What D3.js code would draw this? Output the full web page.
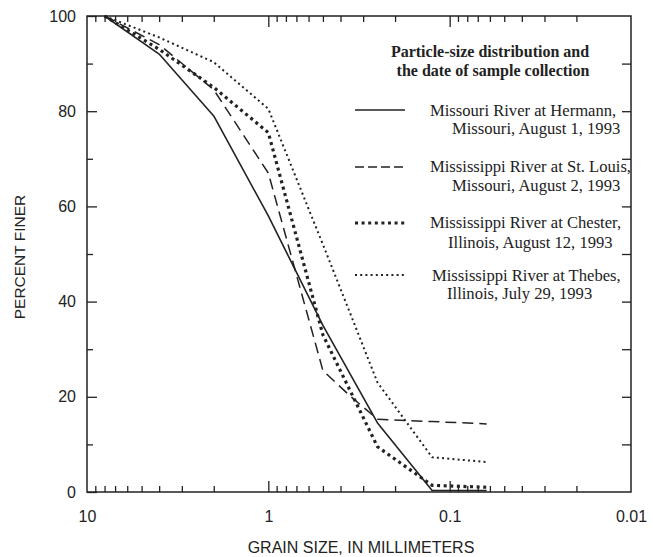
<!DOCTYPE html>
<html>
<head>
<meta charset="utf-8">
<script src="https://cdn.jsdelivr.net/npm/d3@7"></script>
<style>
  html, body { margin: 0; padding: 0; background: #fff; }
  svg { display: block; }
  .tick text { font-family: "Liberation Sans", Arial, sans-serif; font-size: 16px; fill: #222; }
</style>
</head>
<body>
<svg id="chart" width="653" height="557"></svg>
<script>
// ---- Data ----
const sizesStd = [8, 4, 2, 1, 0.5, 0.25, 0.125, 0.0625];           // grain size, mm
const sizesStLouis = [8, 4, 2, 1, 0.5, 0.35, 0.25, 0.125, 0.0625];
const hermann = [100, 92, 79, 58, 35, 14.5, 0.3, 0.3];
const stLouis = [100, 94, 84.5, 67, 25.5, 20, 15.3, 14.8, 14.3];
const chester = [100, 93, 85, 75.5, 33, 9.5, 1.4, 1];
const thebes  = [100, 95.5, 90.3, 80.5, 52, 23, 7.3, 6.3];

const seriesNames = [
  ["Missouri River at Hermann,", "Missouri, August 1, 1993"],
  ["Mississippi River at St. Louis,", "Missouri, August 2, 1993"],
  ["Mississippi River at Chester,", "Illinois, August 12, 1993"],
  ["Mississippi River at Thebes,", "Illinois, July 29, 1993"]
];
const xMajorTicks = [10, 1, 0.1, 0.01];
const xMajorLabels = ["10", "1", "0.1", "0.01"];
const yLabelTicks = [0, 20, 40, 60, 80, 100];
const yMinorTicks = [10, 30, 50, 70, 90];
const yRightTicks = [10, 20, 30, 40, 50, 60, 70, 80, 90];
const legendTitle = ["Particle-size distribution and", "the date of sample collection"];
const xTitle = "GRAIN SIZE, IN MILLIMETERS";
const yTitle = "PERCENT FINER";

// ---- Styles ----
const ink = "#222";
const styles = [
  { width: 1.6, dash: null, legendDash: null },
  { width: 1.5, dash: "11,6", legendDash: "9,4" },
  { width: 3.2, dash: "3,3.6", legendDash: "3,3.6" },
  { width: 2.0, dash: "2,3.2", legendDash: "2,3.2" }
];
const series = [
  { sizes: sizesStd, values: hermann },
  { sizes: sizesStLouis, values: stLouis },
  { sizes: sizesStd, values: chester },
  { sizes: sizesStd, values: thebes }
];

const svg = d3.select("#chart");
const L = 87, R = 631, T = 16, B = 492;
const x = d3.scaleLog().domain([10, 0.01]).range([L, R]);
const y = d3.scaleLinear().domain([0, 100]).range([B, T]);

// ---- Axes ----
const allXTicks = x.ticks().filter(d => d < 9.99 && d > 0.0101);
const majorIndex = d => xMajorTicks.findIndex(m => Math.abs(Math.log10(d) - Math.log10(m)) < 1e-6);
const isMajor = d => majorIndex(d) >= 0;

const bottomAxis = svg.append("g").attr("transform", `translate(0,${B})`)
  .call(d3.axisBottom(x).tickValues(allXTicks).tickSize(-6).tickPadding(19)
    .tickFormat(d => { const i = majorIndex(d); return i >= 0 ? xMajorLabels[i] : ""; }));
bottomAxis.selectAll(".tick line").attr("y2", d => isMajor(d) ? -11 : -6);

// labels at the frame ends (10 and 0.01)
svg.append("g").attr("transform", `translate(0,${B})`)
  .call(d3.axisBottom(x).tickValues([10, 0.01]).tickSize(0).tickPadding(19)
    .tickFormat(d => xMajorLabels[majorIndex(d)]));

const topAxis = svg.append("g").attr("transform", `translate(0,${T})`)
  .call(d3.axisTop(x).tickValues(allXTicks).tickSize(-6).tickFormat(""));
topAxis.selectAll(".tick line").attr("y2", d => isMajor(d) ? 11 : 6);

svg.append("g").attr("transform", `translate(${L},0)`)
  .call(d3.axisLeft(y).tickValues(yLabelTicks).tickSize(-10).tickPadding(11));
svg.append("g").attr("transform", `translate(${L},0)`)
  .call(d3.axisLeft(y).tickValues(yMinorTicks).tickSize(-6).tickFormat(""));
svg.append("g").attr("transform", `translate(${R},0)`)
  .call(d3.axisRight(y).tickValues(yRightTicks).tickSize(-9).tickFormat(""));

svg.selectAll(".domain").remove();
svg.selectAll(".tick line").attr("stroke", ink).attr("stroke-width", 1.3);

// frame
svg.append("rect").attr("x", L).attr("y", T).attr("width", R - L).attr("height", B - T)
  .attr("fill", "none").attr("stroke", ink).attr("stroke-width", 1.5);

// ---- Lines ----
const line = d3.line().x(d => x(d[0])).y(d => y(d[1]));
series.forEach((s, i) => {
  const pts = s.sizes.map((d, j) => [d, s.values[j]]);
  svg.append("path").datum(pts)
    .attr("d", line)
    .attr("fill", "none")
    .attr("stroke", ink)
    .attr("stroke-width", styles[i].width)
    .attr("stroke-linejoin", "round")
    .attr("stroke-dasharray", styles[i].dash);
});

// ---- Legend ----
const serif = "'Liberation Serif', 'Times New Roman', serif";
const lg = svg.append("g").attr("font-family", serif).attr("fill", ink);
lg.append("text").attr("x", 490).attr("y", 56.5).attr("text-anchor", "middle")
  .attr("font-weight", "bold").attr("font-size", 16).text(legendTitle[0]);
lg.append("text").attr("x", 493).attr("y", 75.5).attr("text-anchor", "middle")
  .attr("font-weight", "bold").attr("font-size", 16).text(legendTitle[1]);

const legendRows = [
  { ly: 110, t1: [430, 115.5], t2: [452, 133.5] },
  { ly: 167, t1: [430, 171.5], t2: [452, 190.5] },
  { ly: 223, t1: [430, 228], t2: [448, 247.5] },
  { ly: 275, t1: [432, 280.5], t2: [447, 298.5] }
];
legendRows.forEach((r, i) => {
  lg.append("line").attr("x1", 355).attr("x2", 405).attr("y1", r.ly).attr("y2", r.ly)
    .attr("stroke", ink).attr("stroke-width", styles[i].width)
    .attr("stroke-dasharray", styles[i].legendDash);
  lg.append("text").attr("x", r.t1[0]).attr("y", r.t1[1]).attr("font-size", 16.6).text(seriesNames[i][0]);
  lg.append("text").attr("x", r.t2[0]).attr("y", r.t2[1]).attr("font-size", 16.6).text(seriesNames[i][1]);
});

// ---- Axis titles ----
svg.append("text").attr("x", 361).attr("y", 553).attr("text-anchor", "middle")
  .attr("font-family", "'Liberation Sans', Arial, sans-serif").attr("font-size", 16).attr("fill", ink)
  .text(xTitle);
svg.append("text").attr("transform", "translate(25,257) rotate(-90)").attr("text-anchor", "middle")
  .attr("font-family", "'Liberation Sans', Arial, sans-serif").attr("font-size", 15.5).attr("fill", ink)
  .text(yTitle);
</script>
</body>
</html>
